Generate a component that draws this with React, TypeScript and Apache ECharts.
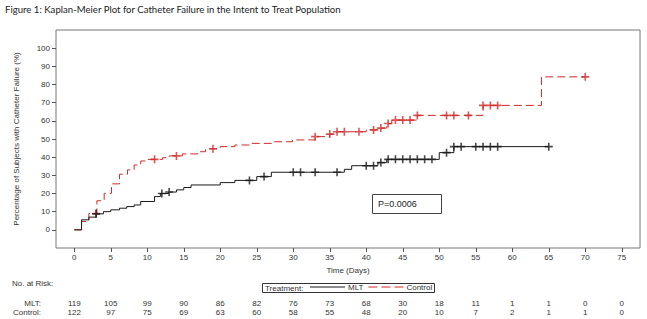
import React, { useEffect, useRef } from "react";
import * as echarts from "echarts";

// Kaplan-Meier step curves: day of each step and cumulative failure (%) from that day on
const mltDays = [0, 1, 2, 3, 4, 5, 6.2, 7.2, 8.2, 9.1, 11, 11.8, 12.9, 14, 15, 16, 20, 22, 25, 27, 37, 38, 41.6, 42.8, 50, 52, 65];
const mltValues = [0, 5.5, 7, 8.8, 10, 11, 11.9, 12.8, 13.7, 15.6, 18.3, 20, 20.8, 22, 23.3, 24.7, 26, 27.2, 29.3, 31.7, 33.3, 35.3, 37, 38.8, 42.5, 45.8, 45.8];

const controlDays = [0, 1, 2, 3.1, 4.1, 5.1, 6.2, 7.3, 8.2, 9.1, 10.1, 12.1, 13, 14.8, 16.9, 18, 20, 22, 24, 27.4, 29.9, 33, 35, 36, 40, 41.8, 42.8, 43.5, 47, 56, 64, 70];
const controlValues = [0, 4.6, 9, 16, 20.1, 25.3, 30.6, 33, 35.7, 37.9, 38.8, 39.7, 40.7, 41.8, 43, 44.6, 45.8, 46.7, 47.6, 48.5, 49.5, 51.3, 52.7, 54, 55, 56, 58.5, 60.4, 63, 68.5, 84.2, 84.2];

// Censored observations (days)
const mltCensorDays = [3, 12, 13, 24, 26, 30, 31, 33, 36, 40, 41, 42, 43, 44, 45, 46, 47, 48, 49, 51, 52, 53, 55, 56, 57, 58, 65];
const controlCensorDays = [3, 11, 14, 19, 33, 35, 36, 37, 39, 41, 42, 43, 44, 45, 46, 47, 51, 52, 54, 56, 57, 58, 70];

// Axis ticks
const xTicks = [0, 5, 10, 15, 20, 25, 30, 35, 40, 45, 50, 55, 60, 65, 70, 75];
const yTicks = [0, 10, 20, 30, 40, 50, 60, 70, 80, 90, 100];

// Number at risk at each x tick
const mltAtRisk = [119, 105, 99, 90, 86, 82, 76, 73, 68, 30, 18, 11, 1, 1, 0, 0];
const controlAtRisk = [122, 97, 75, 69, 63, 60, 58, 55, 48, 20, 10, 7, 2, 1, 1, 0];

const pValueText = "P=0.0006";

const AXIS_FONT = "'Liberation Sans Narrow', 'Liberation Sans', Arial, sans-serif";
const SANS = "'Liberation Sans', Arial, sans-serif";
const TEXT_COLOR = "#333";
const MLT_COLOR = "#1a1a1a";
const CONTROL_COLOR = "#d12a2a";
const PLUS = "path://M4,0H6V4H10V6H6V10H4V6H0V4H4Z";
// Legend keys: a solid stroke and a three-dash stroke
const SOLID_KEY = "path://M0,0H35V1H0Z";
const DASHED_KEY = "path://M0,0H9V1H0Z M13,0H22V1H13Z M26,0H35V1H26Z";

function stepValueAt(days: number[], values: number[], d: number): number {
  let v = values[0];
  for (let i = 0; i < days.length; i++) {
    if (days[i] <= d) v = values[i];
  }
  return v;
}

function riskAxis(name: string, counts: number[], offset: number) {
  return {
    type: "value",
    gridIndex: 0,
    position: "bottom",
    min: -2.5,
    max: 77.5,
    offset,
    name,
    nameLocation: "start",
    nameGap: 15,
    nameTextStyle: { fontFamily: AXIS_FONT, fontSize: 8, color: TEXT_COLOR, align: "right", verticalAlign: "middle" },
    axisLine: { show: false, onZero: false },
    axisTick: { show: false },
    splitLine: { show: false },
    axisLabel: {
      customValues: xTicks,
      margin: 0,
      verticalAlign: "middle",
      fontFamily: AXIS_FONT,
      fontSize: 8,
      color: TEXT_COLOR,
      formatter: (v: number) => {
        const i = xTicks.indexOf(v);
        return i >= 0 ? String(counts[i]) : "";
      },
    },
  };
}

export default function App() {
  const ref = useRef<HTMLDivElement>(null);

  useEffect(() => {
    if (!ref.current) return;
    const chart = echarts.init(ref.current, null, { renderer: "svg" });

    const mltLine = mltDays.map((d, i) => [d, mltValues[i]]);
    const controlLine = controlDays.map((d, i) => [d, controlValues[i]]);
    const mltCensor = mltCensorDays.map((d) => [d, stepValueAt(mltDays, mltValues, d)]);
    const controlCensor = controlCensorDays.map((d) => [d, stepValueAt(controlDays, controlValues, d)]);

    chart.setOption({
      animation: false,
      backgroundColor: "#fff",
      grid: {
        left: 56,
        top: 30,
        right: 7,
        bottom: 71,
        show: true,
        borderColor: "#777",
        borderWidth: 1,
        backgroundColor: "transparent",
      },
      xAxis: [
        {
          type: "value",
          min: -2.5,
          max: 77.5,
          position: "bottom",
          name: "Time (Days)",
          nameLocation: "middle",
          nameGap: 18,
          nameTextStyle: { fontFamily: AXIS_FONT, fontSize: 8, color: TEXT_COLOR },
          axisLine: { show: false, onZero: false },
          axisTick: { show: true, customValues: xTicks, length: 4, lineStyle: { color: "#555" } },
          splitLine: { show: false },
          axisLabel: { customValues: xTicks, margin: 5, fontFamily: AXIS_FONT, fontSize: 8, color: TEXT_COLOR },
        },
        riskAxis("MLT:", mltAtRisk, 55),
        riskAxis("Control:", controlAtRisk, 64),
      ],
      yAxis: {
        type: "value",
        min: -10,
        max: 110,
        position: "left",
        name: "Percentage of Subjects with Catheter Failure (%)",
        nameLocation: "middle",
        nameRotate: 90,
        nameGap: 36,
        nameTextStyle: { fontFamily: AXIS_FONT, fontSize: 8, color: TEXT_COLOR },
        axisLine: { show: false, onZero: false },
        axisTick: { show: true, customValues: yTicks, length: 4, lineStyle: { color: "#555" } },
        splitLine: { show: false },
        axisLabel: { customValues: yTicks, margin: 6, fontFamily: AXIS_FONT, fontSize: 8, color: TEXT_COLOR },
      },
      legend: {
        data: [
          { name: "MLT", icon: SOLID_KEY },
          { name: "Control", icon: DASHED_KEY },
        ],
        left: 310,
        top: 283,
        itemWidth: 35,
        itemHeight: 1,
        itemGap: 5,
        symbolKeepAspect: false,
        padding: 0,
        textStyle: { fontFamily: AXIS_FONT, fontSize: 8, color: TEXT_COLOR, padding: [0, 0, 0, -2] },
      },
      series: [
        {
          name: "MLT",
          type: "line",
          step: "end",
          data: mltLine,
          symbol: "none",
          showSymbol: false,
          lineStyle: { color: MLT_COLOR, width: 1 },
          itemStyle: { color: MLT_COLOR },
          z: 3,
        },
        {
          name: "Control",
          type: "line",
          step: "end",
          data: controlLine,
          symbol: "none",
          showSymbol: false,
          lineStyle: { color: CONTROL_COLOR, width: 1, type: [8, 4] },
          itemStyle: { color: CONTROL_COLOR },
          z: 2,
        },
        {
          name: "MLT censored",
          type: "scatter",
          data: mltCensor,
          symbol: PLUS,
          symbolSize: 8,
          itemStyle: { color: MLT_COLOR },
          z: 5,
        },
        {
          name: "Control censored",
          type: "scatter",
          data: controlCensor,
          symbol: PLUS,
          symbolSize: 8,
          itemStyle: { color: CONTROL_COLOR },
          z: 4,
        },
      ],
      graphic: [
        {
          type: "text",
          left: 5,
          top: 4,
          style: {
            text: "Figure 1: Kaplan-Meier Plot for Catheter Failure in the Intent to Treat Population",
            fontFamily: "Lato, 'Open Sans', sans-serif",
            fontSize: 9.6,
            fill: "#222",
          },
        },
        {
          type: "rect",
          shape: { x: 262.5, y: 283.5, width: 172, height: 9 },
          style: { fill: "none", stroke: "#333", lineWidth: 1 },
        },
        {
          type: "text",
          x: 265,
          y: 288,
          style: { text: "Treatment:", fontFamily: AXIS_FONT, fontSize: 8, fill: TEXT_COLOR, verticalAlign: "middle" },
        },
        {
          type: "rect",
          shape: { x: 372.5, y: 194.5, width: 69, height: 19 },
          style: { fill: "#fff", stroke: "#444", lineWidth: 1 },
        },
        {
          type: "text",
          x: 378,
          y: 204,
          style: { text: pValueText, fontFamily: SANS, fontSize: 9, fill: "#222", verticalAlign: "middle" },
        },
        {
          type: "text",
          x: 12,
          y: 283,
          style: { text: "No. at Risk:", fontFamily: AXIS_FONT, fontSize: 8, fill: TEXT_COLOR, verticalAlign: "middle" },
        },
      ],
    });

    return () => chart.dispose();
  }, []);

  return (
    <div
      ref={ref}
      style={{ position: "fixed", left: 0, top: 0, width: 647, height: 319, background: "#fff" }}
    />
  );
}
